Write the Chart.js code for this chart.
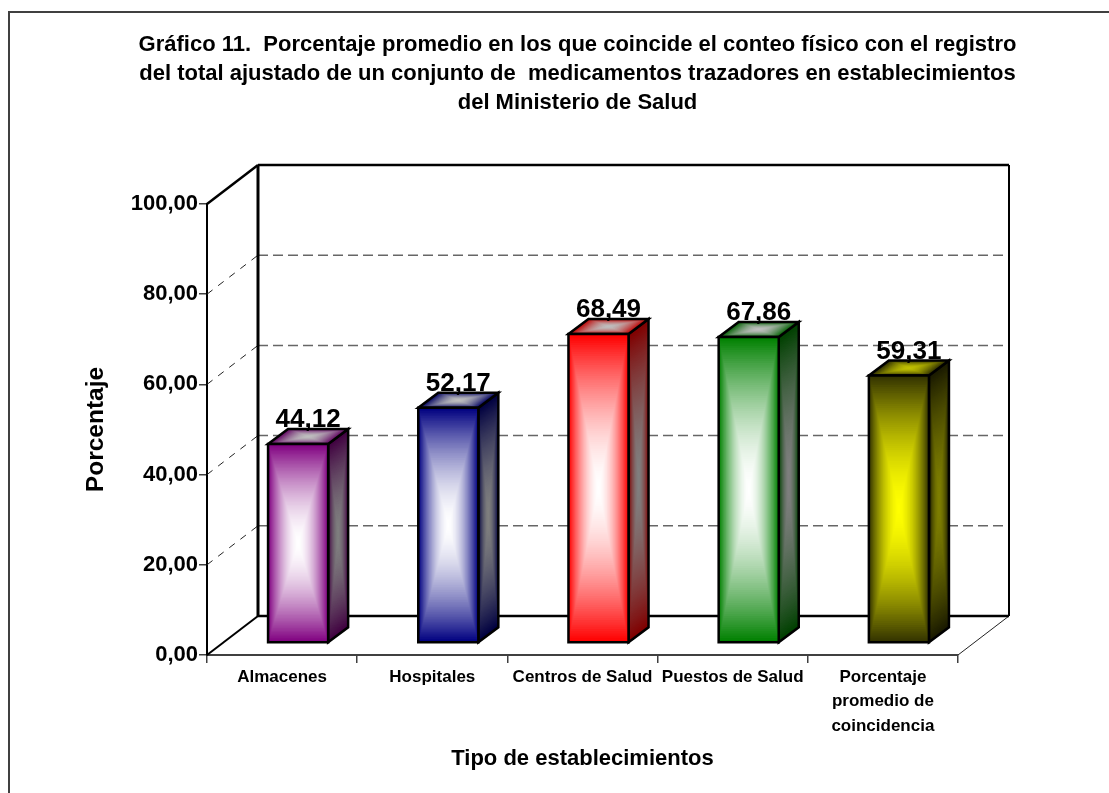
<!DOCTYPE html>
<html>
<head>
<meta charset="utf-8">
<script src="https://cdn.jsdelivr.net/npm/chart.js@4/dist/chart.umd.min.js"></script>
<style>
    html, body { margin: 0; padding: 0; background: #fff; }
    canvas { display: block; }
</style>
</head>
<body>
<canvas id="chart" width="1109" height="793"></canvas>
<script>
const titleLines = [
    'Gráfico 11.  Porcentaje promedio en los que coincide el conteo físico con el registro',
    'del total ajustado de un conjunto de  medicamentos trazadores en establecimientos',
    'del Ministerio de Salud'
];
const categories = ['Almacenes', 'Hospitales', 'Centros de Salud', 'Puestos de Salud', ['Porcentaje', 'promedio de', 'coincidencia']];
const values = [44.12, 52.17, 68.49, 67.86, 59.31];
const edgeColors = ['#800080', '#000080', '#ff0000', '#008000', '#333300'];
const centerColors = ['#ffffff', '#ffffff', '#ffffff', '#ffffff', '#ffff00'];
const yAxisTitle = 'Porcentaje';
const xAxisTitle = 'Tipo de establecimientos';

const FONT = "'Liberation Sans', Arial, sans-serif";
// floor depth of the 3D box, and of the bars inside it
const WALL_DX = 51, WALL_DY = -39;
const BAR_SHIFT_X = 16, BAR_SHIFT_Y = -12;
const BAR_DX = 20, BAR_DY = -15;

const fmt = v => v.toFixed(2).replace('.', ',');

function rgb(hex) {
    return [1, 3, 5].map(i => parseInt(hex.slice(i, i + 2), 16));
}

// nested polygons from the edge colour to the centre colour
function face(ctx, o, u, v, edge, center, shade) {
    const steps = 70;
    for (let i = 0; i < steps; i++) {
        const t = i / steps, a = t / 2, b = 1 - t / 2;
        const mix = 1 - Math.pow(1 - t, 1.7);
        const c = edge.map((e, k) => Math.round((e + (center[k] - e) * mix) * shade));
        ctx.fillStyle = `rgb(${c[0]},${c[1]},${c[2]})`;
        ctx.beginPath();
        ctx.moveTo(o[0] + u[0] * a + v[0] * a, o[1] + u[1] * a + v[1] * a);
        ctx.lineTo(o[0] + u[0] * b + v[0] * a, o[1] + u[1] * b + v[1] * a);
        ctx.lineTo(o[0] + u[0] * b + v[0] * b, o[1] + u[1] * b + v[1] * b);
        ctx.lineTo(o[0] + u[0] * a + v[0] * b, o[1] + u[1] * a + v[1] * b);
        ctx.closePath();
        ctx.fill();
    }
    ctx.strokeStyle = '#000';
    ctx.lineWidth = 2.5;
    ctx.lineJoin = 'miter';
    ctx.beginPath();
    ctx.moveTo(o[0], o[1]);
    ctx.lineTo(o[0] + u[0], o[1] + u[1]);
    ctx.lineTo(o[0] + u[0] + v[0], o[1] + u[1] + v[1]);
    ctx.lineTo(o[0] + v[0], o[1] + v[1]);
    ctx.closePath();
    ctx.stroke();
}

function line(ctx, x1, y1, x2, y2, color, width, dash) {
    ctx.save();
    ctx.strokeStyle = color;
    ctx.lineWidth = width;
    ctx.setLineDash(dash || []);
    ctx.beginPath();
    ctx.moveTo(x1, y1);
    ctx.lineTo(x2, y2);
    ctx.stroke();
    ctx.restore();
}

const box3d = {
    id: 'box3d',
    beforeDraw(chart) {
        // only the top and left of the frame are inside the picture
        line(chart.ctx, 8, 12, chart.width, 12, '#404040', 2);
        line(chart.ctx, 9, 12, 9, chart.height, '#404040', 2);
    },
    afterLayout(chart) {
        // full width title box, moved so its centre sits at x=577
        const shift = 577.5 - (chart.titleBlock.left + chart.titleBlock.right) / 2;
        chart.titleBlock.left += shift;
        chart.titleBlock.right += shift;
    },
    beforeDatasetsDraw(chart) {
        const ctx = chart.ctx, y = chart.scales.y, area = chart.chartArea;
        const backL = area.left + WALL_DX, backR = area.right + WALL_DX;
        y.ticks.forEach(t => {
            const py = y.getPixelForValue(t.value);
            if (t.value > 0 && t.value < 100) {
                line(ctx, area.left, py, backL, py + WALL_DY, '#222', 1, [7, 7]);
                line(ctx, backL, py + WALL_DY, backR, py + WALL_DY, '#666', 1.5, [10, 5]);
            }
        });
        const top = area.top + WALL_DY, floor = area.bottom + WALL_DY;
        line(ctx, area.left, area.top, backL, top, '#000', 2.5);
        line(ctx, area.left, area.bottom, backL, floor, '#000', 2);
        line(ctx, area.right, area.bottom, backR, floor, '#222', 1);
        line(ctx, backL, top, backR, top, '#000', 2.5);
        line(ctx, backL, top, backL, floor, '#000', 3);
        line(ctx, backR, top, backR, floor, '#000', 2);
        line(ctx, backL, floor, backR, floor, '#000', 2.5);
        ctx.save();
        ctx.translate(BAR_SHIFT_X, BAR_SHIFT_Y);
    },
    afterDatasetsDraw(chart) {
        const ctx = chart.ctx;
        ctx.restore();
        chart.getDatasetMeta(0).data.forEach((bar, i) => {
            const p = bar.getProps(['x', 'y', 'base', 'width'], true);
            const left = p.x - p.width / 2 + BAR_SHIFT_X;
            const right = left + p.width;
            const topY = p.y + BAR_SHIFT_Y;
            const h = p.base - p.y;
            const edge = rgb(edgeColors[i]), center = rgb(centerColors[i]);
            face(ctx, [right, topY], [BAR_DX, BAR_DY], [0, h], edge, center, 0.5);
            face(ctx, [left, topY], [p.width, 0], [BAR_DX, BAR_DY], edge, center, 0.75);
            face(ctx, [left, topY], [p.width, 0], [0, h], edge, center, 1);
            ctx.save();
            ctx.fillStyle = '#000';
            ctx.font = `bold 26px ${FONT}`;
            ctx.textAlign = 'center';
            ctx.textBaseline = 'alphabetic';
            ctx.fillText(fmt(values[i]), p.x + BAR_SHIFT_X + BAR_DX / 2, topY + BAR_DY - 2);
            ctx.restore();
        });
    }
};

new Chart(document.getElementById('chart'), {
    type: 'bar',
    data: {
        labels: categories,
        datasets: [{
            data: values,
            backgroundColor: edgeColors,
            borderWidth: 0,
            barPercentage: 0.4,
            categoryPercentage: 1,
            clip: false
        }]
    },
    options: {
        responsive: false,
        animation: false,
        layout: { padding: { left: 78, right: 151, top: 30, bottom: 17 } },
        plugins: {
            legend: { display: false },
            tooltip: { enabled: false },
            title: {
                display: true,
                text: titleLines,
                fullSize: true,
                color: '#000',
                font: { family: FONT, size: 22, weight: 'bold', lineHeight: '29px' },
                padding: { top: 0, bottom: 87 }
            }
        },
        scales: {
            x: {
                afterFit: s => { s.height = 121; },
                grid: { drawOnChartArea: false, color: '#404040', lineWidth: 1.5, tickLength: 8 },
                border: { color: '#404040', width: 2 },
                ticks: {
                    color: '#000',
                    maxRotation: 0,
                    autoSkip: false,
                    padding: 2,
                    font: { family: FONT, size: 17, weight: 'bold', lineHeight: '24.5px' }
                },
                title: {
                    display: true,
                    text: xAxisTitle,
                    color: '#000',
                    font: { family: FONT, size: 22, weight: 'bold' }
                }
            },
            y: {
                min: 0,
                max: 100,
                afterFit: s => { s.width = 129; },
                grid: { drawOnChartArea: false, color: '#404040', lineWidth: 1.5, tickLength: 8 },
                border: { color: '#000', width: 2 },
                ticks: {
                    stepSize: 20,
                    color: '#000',
                    padding: 1,
                    callback: v => fmt(v),
                    font: { family: FONT, size: 22, weight: 'bold' }
                },
                title: {
                    display: true,
                    text: yAxisTitle,
                    color: '#000',
                    font: { family: FONT, size: 24.5, weight: 'bold' }
                }
            }
        }
    },
    plugins: [box3d]
});
</script>
</body>
</html>
